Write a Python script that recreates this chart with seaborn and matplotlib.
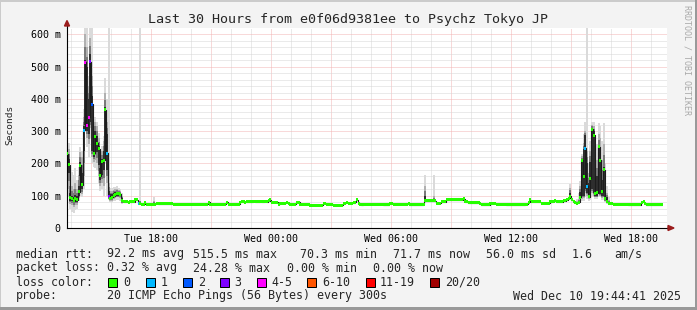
import numpy as np
import pandas as pd
import matplotlib
matplotlib.use("Agg")
import matplotlib.pyplot as plt
import seaborn as sns
from matplotlib.patches import Polygon, Rectangle

# ------------------------------------------------------------------ data
start_hour = 13.8          # Tue 13:48 (hours since Tue 00:00)
step_hours = 5 / 60        # one sample every 300 s

median_ms = [
    230, 196, 95, 90, 85, 92, 88, 112, 194, 134,
    303, 514, 318, 344, 515, 383, 232, 284, 262, 245,
    162, 205, 210, 366, 232, 98, 92, 95, 100, 104,
    107, 106, 104, 84, 82, 82, 82, 80, 81, 82,
    82, 87, 87, 77, 76, 74, 74, 78, 73, 74,
    73, 73, 74, 73, 77, 75, 75, 75, 75, 75,
    75, 75, 75, 75, 73, 73, 73, 73, 73, 73,
    74, 74, 74, 74, 74, 74, 73, 73, 73, 73,
    73, 73, 73, 73, 73, 80, 74, 74, 74, 74,
    74, 73, 73, 73, 73, 73, 80, 74, 74, 74,
    74, 74, 74, 74, 80, 81, 81, 80, 81, 81,
    82, 82, 83, 82, 82, 82, 83, 82, 82, 83,
    82, 84, 87, 80, 80, 80, 80, 74, 77, 77,
    77, 77, 80, 77, 74, 74, 74, 74, 80, 80,
    74, 74, 74, 74, 74, 74, 71, 71, 71, 71,
    71, 71, 71, 71, 77, 77, 74, 74, 74, 74,
    71, 71, 71, 71, 71, 71, 77, 77, 80, 77,
    76, 76, 78, 80, 87, 76, 73, 72, 73, 73,
    73, 73, 73, 73, 73, 73, 74, 74, 74, 74,
    72, 72, 72, 72, 77, 77, 73, 73, 73, 73,
    74, 74, 74, 74, 74, 77, 72, 72, 72, 72,
    72, 72, 72, 72, 74, 84, 84, 84, 84, 84,
    84, 84, 76, 76, 76, 82, 82, 82, 87, 88,
    87, 88, 87, 87, 88, 87, 88, 88, 90, 82,
    82, 79, 79, 79, 79, 79, 79, 79, 75, 72,
    72, 72, 72, 72, 77, 77, 77, 77, 73, 73,
    73, 73, 73, 73, 72, 72, 72, 72, 72, 72,
    72, 72, 72, 72, 72, 74, 74, 80, 87, 82,
    82, 82, 82, 82, 82, 77, 77, 77, 77, 77,
    82, 82, 83, 84, 82, 82, 82, 82, 84, 84,
    88, 92, 98, 88, 82, 78, 77, 80, 95, 210,
    159, 248, 130, 97, 154, 306, 288, 107, 109, 252,
    210, 113, 180, 90, 81, 77, 77, 77, 74, 74,
    74, 74, 74, 74, 74, 74, 74, 72, 72, 72,
    72, 72, 72, 72, 72, 80, 82, 75, 72, 72,
    72, 72, 72, 72, 72, 72, 72, 72,
]

# samples with packet loss (sample index, lost pings out of 20)
loss_points = [10, 11, 12, 13, 14, 15, 24, 25, 43, 311, 312]
loss_counts = [1, 4, 4, 4, 3, 2, 1, 3, 1, 1, 1]

# smoke: distribution of the 20 pings for samples where it is visible
smoke_points = [0, 1, 2, 3, 4, 5, 6, 7, 8, 9,
                10, 11, 12, 13, 14, 15, 16, 17, 18, 19,
                20, 21, 22, 23, 24, 25, 26, 27, 28, 29,
                30, 31, 32, 33, 44, 52, 215, 220, 302,
                306, 307, 308, 309, 310, 311, 312, 313, 314, 315,
                316, 317, 318, 319, 320, 321, 322, 323, 324, 325]
smoke_min = [140, 95, 60, 50, 48, 55, 60, 85, 100, 95,
             120, 300, 250, 220, 280, 200, 190, 185, 180, 140,
             115, 120, 100, 200, 100, 88, 80, 80, 85, 85,
             88, 88, 85, 75, 72, 70, 78, 80, 88,
             72, 74, 82, 85, 85, 95, 90, 85, 88, 100,
             95, 90, 90, 95, 95, 88, 88, 80, 75, 70]
smoke_p10 = [170, 120, 75, 70, 65, 70, 72, 92, 120, 105,
             160, 310, 280, 260, 310, 220, 205, 210, 200, 160,
             130, 140, 130, 215, 140, 90, 85, 85, 90, 92,
             95, 95, 92, 78, 73, 72, 80, 82, 92,
             74, 76, 88, 90, 92, 110, 100, 90, 95, 110,
             100, 95, 95, 105, 100, 92, 95, 84, 77, 72]
smoke_p25 = [210, 170, 85, 84, 80, 85, 82, 100, 160, 120,
             240, 320, 300, 290, 330, 240, 220, 240, 235, 195,
             150, 165, 180, 235, 180, 92, 88, 90, 95, 98,
             100, 100, 98, 80, 74, 73, 82, 83, 95,
             75, 78, 90, 100, 100, 122, 110, 95, 100, 122,
             108, 100, 100, 110, 105, 100, 100, 86, 78, 73]
smoke_p75 = [245, 215, 110, 100, 95, 102, 98, 130, 205, 170,
             315, 520, 500, 400, 540, 410, 270, 300, 285, 255,
             185, 215, 240, 375, 290, 115, 105, 105, 110, 112,
             113, 112, 110, 92, 80, 78, 100, 88, 110,
             80, 84, 112, 215, 245, 288, 200, 140, 205, 310,
             300, 150, 160, 258, 225, 150, 190, 120, 95, 80]
smoke_p90 = [280, 245, 150, 130, 120, 140, 120, 165, 235, 220,
             345, 600, 560, 440, 590, 470, 315, 330, 315, 280,
             215, 240, 270, 420, 330, 140, 115, 115, 118, 120,
             120, 118, 115, 100, 85, 85, 130, 100, 125,
             84, 90, 130, 222, 265, 300, 240, 170, 240, 320,
             315, 200, 210, 290, 280, 210, 260, 160, 110, 88]
smoke_max = [300, 265, 180, 175, 165, 185, 150, 190, 250, 240,
             370, 650, 650, 470, 650, 650, 335, 345, 330, 295,
             230, 255, 285, 465, 400, 650, 125, 125, 128, 128,
             130, 125, 120, 110, 650, 95, 165, 165, 135,
             90, 110, 145, 228, 290, 330, 650, 200, 270, 330,
             330, 240, 260, 325, 315, 270, 325, 200, 130, 95]

loss_labels = ["0", "1", "2", "3", "4-5", "6-10", "11-19", "20/20"]
loss_colors = ["#26ff00", "#00b8ff", "#0059ff", "#7e00ff",
               "#ff00ff", "#ff5500", "#ff0000", "#a10000"]

x_tick_hours = [18, 24, 30, 36, 42]
x_tick_labels = ["Tue 18:00", "Wed 00:00", "Wed 06:00", "Wed 12:00", "Wed 18:00"]
y_tick_values = [0, 100, 200, 300, 400, 500, 600]
y_tick_labels = ["0", "100 m", "200 m", "300 m", "400 m", "500 m", "600 m"]

title = "Last 30 Hours from e0f06d9381ee to Psychz Tokyo JP"
stats_rtt = ["92.2 ms avg", "515.5 ms max", "70.3 ms min", "71.7 ms now",
             "56.0 ms sd", "1.6", "am/s"]
stats_loss = ["0.32 % avg", "24.28 % max", "0.00 % min", "0.00 % now"]
probe_text = "20 ICMP Echo Pings (56 Bytes) every 300s"
stamp_text = "Wed Dec 10 19:44:41 2025"

# ------------------------------------------------------------------ style
sns.set_theme(style="white")
MONO = ["DejaVu Sans Mono"]
plt.rcParams["font.family"] = MONO

W, H = 697, 310
fig = plt.figure(figsize=(W / 100, H / 100), dpi=100, facecolor="#f3f3f3")
ax = fig.add_axes([67 / W, 1 - 228 / H, 600 / W, 200 / H])
ax.set_facecolor("white")

def fx(px):
    return px / W

def fy(py):
    return 1 - py / H

# ------------------------------------------------------------------ marks
n = len(median_ms)
t = start_hour + np.arange(n) * step_hours
med = np.array(median_ms, dtype=float)
df = pd.DataFrame({"hour": t, "median": med})

sp = np.array(smoke_points)
st = start_hour + sp * step_hours
smin, s10, s25 = map(np.asarray, (smoke_min, smoke_p10, smoke_p25))
s75, s90, smax = map(np.asarray, (smoke_p75, smoke_p90, smoke_max))
bands = [
    (smin, smax, "#dadada"),
    (s10, s90, "#b0b0b0"),
    ((s10 + s25) / 2, (s75 + s90) / 2, "#7a7a7a"),
    (s25, s75, "#2e2e2e"),
]
for lo, hi, c in bands:
    ax.bar(st, hi - lo, bottom=lo, width=step_hours * 1.04, color=c,
           linewidth=0, zorder=2)

sns.lineplot(data=df, x="hour", y="median", ax=ax, color="#1c1c1c",
             linewidth=0.8, drawstyle="steps-mid", estimator=None, zorder=3)

def loss_bin(k):
    if k == 0:
        return 0
    if k <= 3:
        return k
    if k <= 5:
        return 4
    if k <= 10:
        return 5
    if k <= 19:
        return 6
    return 7

point_colors = [loss_colors[0]] * n
for i, k in zip(loss_points, loss_counts):
    point_colors[i] = loss_colors[loss_bin(k)]

swidth = 3 * 620 / 200   # 3 px thick median band
ax.bar(t, swidth, bottom=med - swidth / 2, width=step_hours * 1.04,
       color=point_colors, linewidth=0, zorder=4)

# ------------------------------------------------------------------ axes
ax.set_xlim(13.8, 43.8)
ax.set_ylim(0, 620)
majors = np.arange(15, 43.9, 3)
ax.set_xticks(majors)
ax.set_xticklabels([x_tick_labels[x_tick_hours.index(h)] if h in x_tick_hours else ""
                    for h in majors])
ax.set_xticks(np.arange(14, 44, 1), minor=True)
ax.set_yticks(y_tick_values)
ax.set_yticklabels(y_tick_labels)
ax.set_yticks(np.arange(0, 620, 20), minor=True)
ax.set_axisbelow(True)
ax.grid(which="minor", color="#d6d6d6", linestyle=(0, (1, 1)), linewidth=0.72)
ax.grid(which="major", color="#f2b4b4", linestyle=(0, (1, 1)), linewidth=0.72)
ax.tick_params(which="both", length=0, labelsize=7.2, colors="black")
ax.tick_params(axis="x", pad=4.3)
ax.tick_params(axis="y", pad=4.6)
ax.set_xlabel("")
ax.set_ylabel("")
for s in ("top", "right"):
    ax.spines[s].set_visible(False)
for s in ("left", "bottom"):
    ax.spines[s].set_color("black")
    ax.spines[s].set_linewidth(0.8)

# axis extensions with arrows
ax.plot([0, 0], [1, 1.03], transform=ax.transAxes, color="black", lw=0.8, clip_on=False)
ax.plot([1, 1.003], [0, 0], transform=ax.transAxes, color="black", lw=0.8, clip_on=False)
arrow_c = "#9b1c1c"
ax.add_patch(Polygon([(-0.0042, 1.01), (0.0042, 1.01), (0, 1.0375)], closed=True,
                     transform=ax.transAxes, color=arrow_c, clip_on=False, zorder=6))
ax.add_patch(Polygon([(1.0017, 0.0125), (1.0017, -0.0125), (1.0117, 0)], closed=True,
                     transform=ax.transAxes, color=arrow_c, clip_on=False, zorder=6))

# ------------------------------------------------------------------ texts
fig.text(fx(347.5), fy(19), title, ha="center", va="center", fontsize=9.6, family=MONO)
fig.text(fx(10), fy(125), "Seconds", rotation=90, ha="center", va="center",
         fontsize=6.8, family=MONO)
fig.text(fx(687), fy(60), "RRDTOOL / TOBI OETIKER", rotation=270, ha="center",
         va="center", fontsize=6.0, color="#a9a9a9", family=MONO)

LF = 8.4
rows_y = [257.5, 271.5, 285.5, 299.5]
fig.text(fx(16), fy(rows_y[0]), "median rtt:", va="baseline", fontsize=LF)
for x, s in zip([107, 193, 300, 393, 486, 572, 614], stats_rtt):
    fig.text(fx(x), fy(rows_y[0]), s, va="baseline", fontsize=LF)
fig.text(fx(16), fy(rows_y[1]), "packet loss:", va="baseline", fontsize=LF)
for x, s in zip([107, 193, 287, 373], stats_loss):
    fig.text(fx(x), fy(rows_y[1]), s, va="baseline", fontsize=LF)
fig.text(fx(16), fy(rows_y[2]), "loss color:", va="baseline", fontsize=LF)
box_x = [108, 146, 183, 220, 257, 307, 366, 430]
lab_x = [123, 161, 198, 234, 271, 322, 380, 445]
for bx, lx, lab, col in zip(box_x, lab_x, loss_labels, loss_colors):
    fig.patches.append(Rectangle((fx(bx), fy(287)), 9 / W, 9 / H, transform=fig.transFigure,
                                 facecolor=col, edgecolor="black", linewidth=0.72))
    fig.text(fx(lx), fy(rows_y[2]), lab, va="baseline", fontsize=LF)
fig.text(fx(16), fy(rows_y[3]), "probe:", va="baseline", fontsize=LF)
fig.text(fx(107), fy(rows_y[3]), probe_text, va="baseline", fontsize=LF)
fig.text(fx(513), fy(rows_y[3]), stamp_text, va="baseline", fontsize=LF)

# frame shading
shade_a, shade_b = "#cbcbcb", "#999999"
fig.patches.append(Rectangle((0, 1 - 2 / H), 1, 2 / H, transform=fig.transFigure,
                             facecolor=shade_a, edgecolor="none"))
fig.patches.append(Rectangle((0, 0), 1 / W, 1, transform=fig.transFigure,
                             facecolor=shade_a, edgecolor="none"))
fig.patches.append(Rectangle((0, 0), 1, 3 / H, transform=fig.transFigure,
                             facecolor=shade_b, edgecolor="none"))
fig.patches.append(Rectangle((1 - 2 / W, 0), 2 / W, 1, transform=fig.transFigure,
                             facecolor=shade_b, edgecolor="none"))

fig.savefig("out.png", dpi=100, facecolor=fig.get_facecolor())
